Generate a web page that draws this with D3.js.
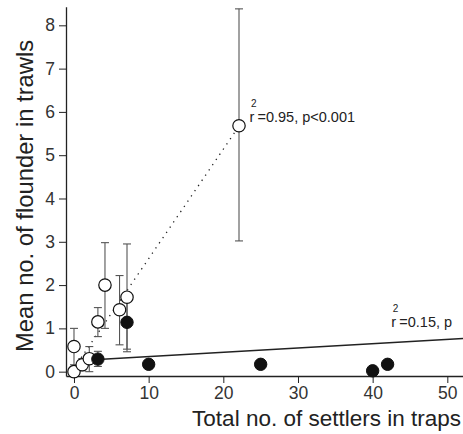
<!DOCTYPE html>
<html>
<head>
    <meta charset="UTF-8" />
    <script src="https://cdn.jsdelivr.net/npm/d3@7/dist/d3.min.js"></script>
    <style>
        body { margin: 0; background: #fff; }
        svg { display: block; font-family: "Liberation Sans", Arial, sans-serif; }
    </style>
</head>
<body>
    <div id="chart"></div>
    <script>
        // open circles (trawls vs traps, group 1)
        const openX = [0, 0, 1.1, 2.05, 3.2, 4.15, 6.1, 7.1, 22.1];
        const openY = [0, 0.58, 0.16, 0.3, 1.15, 2.0, 1.43, 1.72, 5.68];
        const openLo = [0, 0.16, 0.02, 0.0, 0.81, 1.0, 0.62, 0.52, 3.02];
        const openHi = [0, 1.0, 0.3, 0.58, 1.48, 2.98, 2.22, 2.95, 8.38];

        // filled circles (group 2)
        const fillX = [3.2, 7.1, 10, 25, 40, 42];
        const fillY = [0.29, 1.14, 0.17, 0.17, 0.02, 0.17];
        const fillLo = [0.12, 0.46, 0.17, 0.17, 0.02, 0.17];
        const fillHi = [0.47, 1.82, 0.17, 0.17, 0.02, 0.17];

        // regression lines: [x0, x1], intercept, slope
        const dotFit = { from: 0, to: 22.1, a: 0.08, b: 0.253 };
        const solidFit = { from: 3.2, to: 52.1, a: 0.25, b: 0.0099 };

        const xTicks = [0, 10, 20, 30, 40, 50];
        const yTicks = [0, 1, 2, 3, 4, 5, 6, 7, 8];

        const width = 463, height = 434;
        const x = d3.scaleLinear().domain([-1.07, 52.1]).range([66, 463]);
        const y = d3.scaleLinear().domain([-0.1, 8.43]).range([376, 6.7]);

        const svg = d3.select("#chart").append("svg")
            .attr("width", width)
            .attr("height", height)
            .attr("viewBox", [0, 0, width, height]);

        const ink = "#222";

        // axes
        const xAxis = svg.append("g")
            .attr("transform", `translate(0,${y(-0.1)})`)
            .call(d3.axisBottom(x).tickValues(xTicks).tickSize(7).tickSizeOuter(0).tickPadding(4));
        const yAxis = svg.append("g")
            .attr("transform", `translate(${x(-1.07)},0)`)
            .call(d3.axisLeft(y).tickValues(yTicks).tickSize(7).tickSizeOuter(0).tickPadding(4));

        [xAxis, yAxis].forEach(g => {
            g.selectAll("path.domain").attr("stroke", ink).attr("stroke-width", 1.3);
            g.selectAll(".tick line").attr("stroke", ink).attr("stroke-width", 1);
            g.selectAll(".tick text")
                .attr("fill", "#333")
                .attr("font-size", 17.5)
                .attr("font-family", "Liberation Sans, Arial, sans-serif");
        });

        // axis titles
        svg.append("text")
            .attr("x", 461)
            .attr("y", 426)
            .attr("text-anchor", "end")
            .attr("font-size", 22.5)
            .attr("fill", ink)
            .text("Total no. of settlers in traps");

        svg.append("text")
            .attr("transform", `translate(33,${y(-0.1) - 24}) rotate(-90)`)
            .attr("text-anchor", "start")
            .attr("font-size", 23.8)
            .attr("fill", ink)
            .text("Mean no. of flounder in trawls");

        // fitted lines
        svg.append("line")
            .attr("x1", x(solidFit.from)).attr("y1", y(solidFit.a + solidFit.b * solidFit.from))
            .attr("x2", x(solidFit.to)).attr("y2", y(solidFit.a + solidFit.b * solidFit.to))
            .attr("stroke", ink)
            .attr("stroke-width", 1.4);

        svg.append("line")
            .attr("x1", x(dotFit.from)).attr("y1", y(dotFit.a + dotFit.b * dotFit.from))
            .attr("x2", x(dotFit.to)).attr("y2", y(dotFit.a + dotFit.b * dotFit.to))
            .attr("stroke", ink)
            .attr("stroke-width", 1.3)
            .attr("stroke-dasharray", "1.3,5");

        // error bars
        function errorBars(xs, lo, hi) {
            const g = svg.append("g").attr("stroke", "#555").attr("stroke-width", 1.1);
            xs.forEach((xv, i) => {
                if (hi[i] - lo[i] < 0.01) return;
                const cx = x(xv);
                g.append("line").attr("x1", cx).attr("x2", cx).attr("y1", y(lo[i])).attr("y2", y(hi[i]));
                g.append("line").attr("x1", cx - 4).attr("x2", cx + 4).attr("y1", y(lo[i])).attr("y2", y(lo[i]));
                g.append("line").attr("x1", cx - 4).attr("x2", cx + 4).attr("y1", y(hi[i])).attr("y2", y(hi[i]));
            });
        }
        errorBars(openX, openLo, openHi);
        errorBars(fillX, fillLo, fillHi);

        // points
        svg.append("g").selectAll("circle")
            .data(openX.map((d, i) => [d, openY[i]]))
            .join("circle")
            .attr("cx", d => x(d[0]))
            .attr("cy", d => y(d[1]))
            .attr("r", 6.2)
            .attr("fill", "#fff")
            .attr("stroke", "#111")
            .attr("stroke-width", 1.2);

        svg.append("g").selectAll("circle")
            .data(fillX.map((d, i) => [d, fillY[i]]))
            .join("circle")
            .attr("cx", d => x(d[0]))
            .attr("cy", d => y(d[1]))
            .attr("r", 6.2)
            .attr("fill", "#111")
            .attr("stroke", "#111")
            .attr("stroke-width", 1);

        // r-squared labels
        function rLabel(xv, yv, rest) {
            const bx = x(xv), by = y(yv);
            svg.append("text").attr("x", bx).attr("y", by).attr("font-size", 14.5).attr("fill", ink).text("r");
            svg.append("text").attr("x", bx + 1.5).attr("y", by - 15).attr("font-size", 10).attr("fill", ink).text("2");
            svg.append("text").attr("x", bx + 8).attr("y", by).attr("font-size", 14.5).attr("fill", ink).text(rest);
        }
        rLabel(23.5, 5.77, "=0.95, p<0.001");
        rLabel(42.5, 1.04, "=0.15, p");
    </script>
</body>
</html>
